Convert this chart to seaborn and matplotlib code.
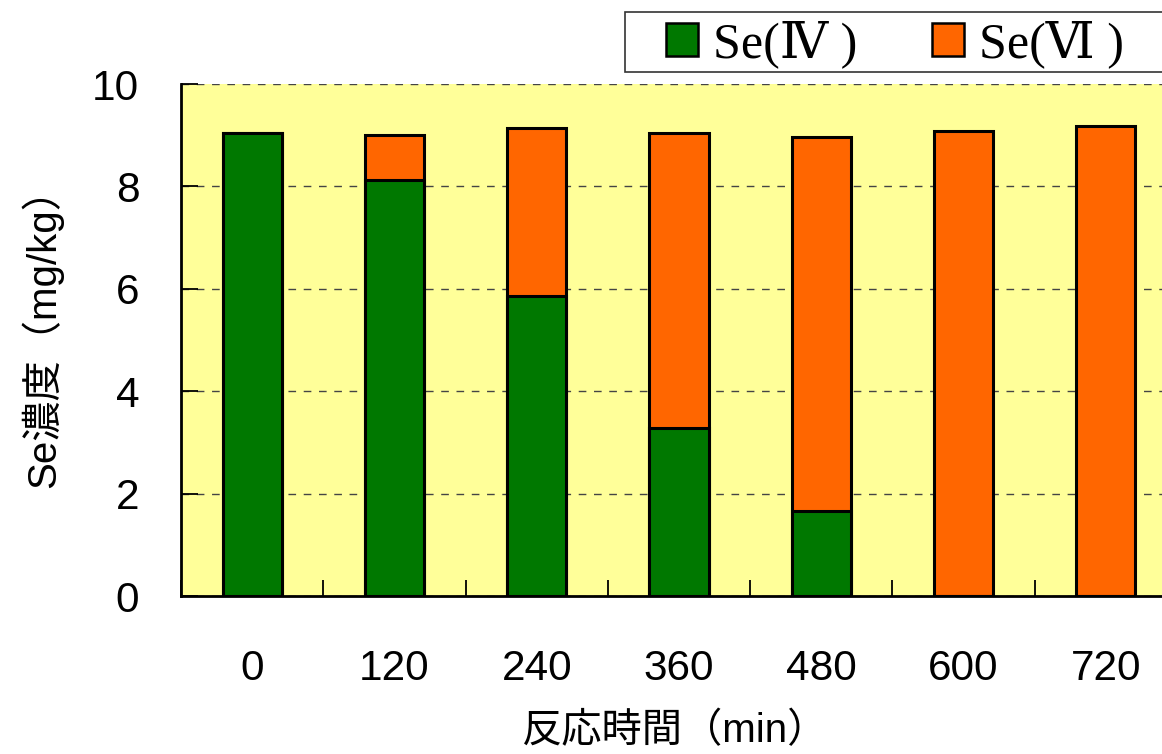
import numpy as np
import pandas as pd
import matplotlib
matplotlib.use("Agg")
import matplotlib.pyplot as plt
from matplotlib.patches import Patch, Rectangle
from matplotlib.ticker import FixedLocator
import seaborn as sns

# Reaction time (min) and selenium species concentration (mg/kg)
times = ["0", "120", "240", "360", "480", "600", "720"]
se_iv = [9.05, 8.12, 5.86, 3.28, 1.66, 0.0, 0.0]
se_vi = [0.0, 0.88, 3.28, 5.77, 7.30, 9.09, 9.18]
yticks = [0, 2, 4, 6, 8, 10]
legend_labels = ["Se(Ⅳ )", "Se(Ⅵ )"]

GREEN = "#007800"
ORANGE = "#FF6600"
BG = "#FFFF99"

sns.set_theme(style="white")
plt.rcParams["font.family"] = ["Liberation Sans", "Noto Sans CJK JP", "DejaVu Sans"]
plt.rcParams["text.color"] = "black"

df = pd.DataFrame({"time": times, "se4": se_iv, "se6": se_vi})
df["total"] = df["se4"] + df["se6"]

W, H = 1162, 754
fig = plt.figure(figsize=(W / 100, H / 100), dpi=100)
ax = fig.add_axes([181 / W, (H - 596) / H, 996 / W, 512 / H])
ax.set_facecolor(BG)

bar_kw = dict(width=0.415, edgecolor="black", linewidth=2.2, zorder=3)
# Se(VI) stacked on top of Se(IV): draw the full stack, then the lower part
sns.barplot(data=df, x="time", y="total", color=ORANGE, saturation=1, ax=ax, **bar_kw)
sns.barplot(data=df, x="time", y="se4", color=GREEN, saturation=1, ax=ax, **bar_kw)

ax.set_xlim(-0.5, len(times) - 0.5)
ax.set_ylim(0, 10)
ax.set_yticks(yticks)
ax.set_yticklabels([str(v) for v in yticks])
ax.set_xlabel("")
ax.set_ylabel("")

# dashed horizontal grid lines behind bars
ax.yaxis.grid(True, linestyle=(0, (5.5, 5.5)), color="#444444", linewidth=1.0, zorder=1)
ax.xaxis.grid(False)
ax.set_axisbelow(True)

for side in ["top", "right"]:
    ax.spines[side].set_visible(False)
for side in ["left", "bottom"]:
    ax.spines[side].set_visible(True)
    ax.spines[side].set_color("black")
    ax.spines[side].set_linewidth(2.0)
    ax.spines[side].set_zorder(4)

# category boundary ticks on x, inward ticks on y
ax.xaxis.set_minor_locator(FixedLocator(np.arange(-0.5, len(times), 1.0)))
ax.tick_params(axis="x", which="major", length=0, labelsize=30.5, pad=38, colors="black")
ax.tick_params(axis="x", which="minor", direction="in", length=11.5, width=1.3,
               color="black", bottom=True)
ax.tick_params(axis="y", which="major", direction="in", length=12, width=1.3,
               labelsize=30.5, pad=30, colors="black", left=True)

fig.text(42 / W, 1 - 328 / H, "Se濃度（mg/kg）", rotation=90, ha="center", va="center",
         fontsize=29, color="black")
fig.text(675 / W, 1 - 731 / H, "反応時間（min）", ha="center", va="center",
         fontsize=29, color="black")

# legend box running off the right edge of the figure
fig.patches.append(Rectangle((625 / W, 1 - 72 / H), 560 / W, 60 / H,
                             transform=fig.transFigure, facecolor="white",
                             edgecolor="#333333", linewidth=1.2, zorder=5))
handles = [Patch(facecolor=GREEN, edgecolor="black", linewidth=1.8),
           Patch(facecolor=ORANGE, edgecolor="black", linewidth=1.8)]
leg = fig.legend(handles, legend_labels, ncol=2, loc="center left",
                 bbox_to_anchor=(666 / W, 1 - 44 / H),
                 frameon=False, borderaxespad=0, borderpad=0,
                 handlelength=0.64, handleheight=0.64, handletextpad=0.3,
                 columnspacing=1.5, labelcolor="black",
                 prop={"family": ["Liberation Serif", "DejaVu Serif"], "size": 36})
leg.set_zorder(6)

fig.savefig("out.png", dpi=100, facecolor="white")
